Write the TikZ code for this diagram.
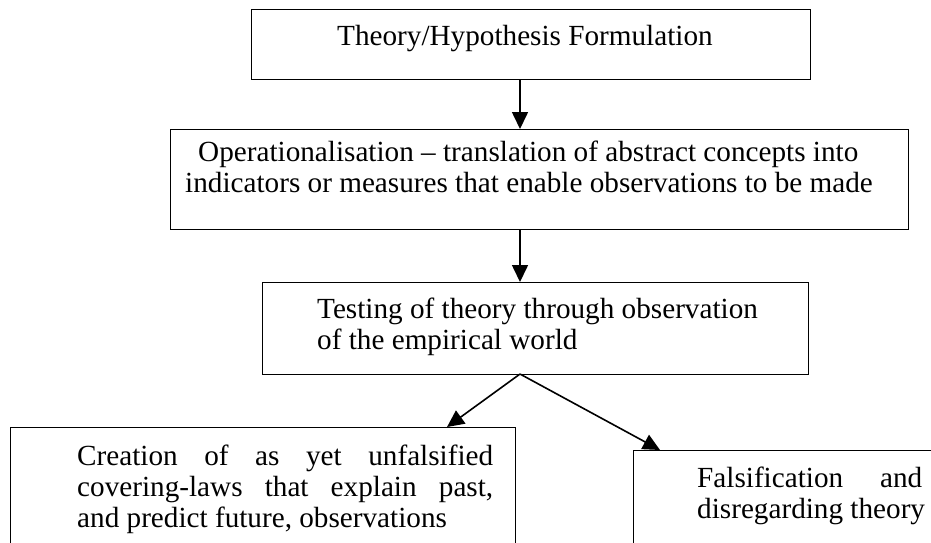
\documentclass[tikz,border=0pt]{standalone}
\usepackage{fontspec}
\setmainfont{Liberation Serif}
\usetikzlibrary{arrows.meta}
\begin{document}
\begin{tikzpicture}[x=1pt,y=-1pt,
  box/.style={draw=black, line width=1.3pt, rectangle, inner sep=0pt, anchor=north west},
  txt/.style={inner sep=0pt, anchor=base west, align=left, font=\fontsize{29.2}{31.3}\selectfont},
  flow/.style={line width=1.6pt, -{Triangle[width=16pt,length=17pt]}}]
\useasboundingbox (0,0) rectangle (931,542);
\clip (0,0) rectangle (931,542);

% boxes
\node[box, minimum width=559pt, minimum height=70pt]  (theory) at (251,9)   {};
\node[box, minimum width=738pt, minimum height=100pt] (oper)   at (170,129) {};
\node[box, minimum width=546pt, minimum height=92pt]  (test)   at (262,282) {};
\node[box, minimum width=505pt, minimum height=140pt] (laws)   at (10,427)  {};
\node[box, minimum width=340pt, minimum height=120pt] (fals)   at (633,450) {};

% texts (a multi-line node sits on the baseline of its last line)
\node[txt] (theoryT) at (337,45) {Theory/Hypothesis Formulation};
\node[txt] (operT) at (185,192.3) {\hspace*{13pt}Operationalisation – translation of abstract concepts into\\
  indicators or measures that enable observations to be made};
\node[txt] (testT) at (317,349.3) {Testing of theory through observation\\of the empirical world};
\node[txt] (lawsT) at (77,527.6) {\makebox[416pt][s]{Creation of as yet unfalsified}\\
  \makebox[416pt][s]{covering-laws that explain past,}\\
  and predict future, observations};
\node[txt] (falsT) at (697,518.3) {\makebox[225pt][s]{Falsification and}\\disregarding theory};

% connectors
\coordinate (fork) at (520,374);
\draw[flow] (theory.south -| fork) -- (oper.north -| fork);
\draw[flow] (oper.south -| fork) -- (test.north -| fork);
\draw[flow] (fork) -- (447,427);
\draw[flow] (fork) -- (660,450);
\end{tikzpicture}
\end{document}
